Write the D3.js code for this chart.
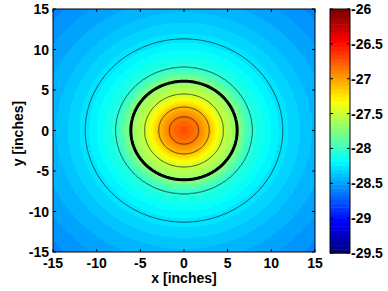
<!DOCTYPE html>
<html>
<head>
<meta charset="utf-8">
<script src="https://cdn.jsdelivr.net/npm/d3@7"></script>
<style>
  body { margin: 0; background: #fff; }
  text { font-family: "Liberation Sans", Arial, sans-serif; font-weight: bold; font-size: 14px; fill: #000; }
</style>
</head>
<body>
<svg id="chart" width="388" height="291"></svg>
<script>
// axis ticks
const xTicks = [-15, -10, -5, 0, 5, 10, 15];
const yTicks = [-15, -10, -5, 0, 5, 10, 15];
const cbTicks = [-26, -26.5, -27, -27.5, -28, -28.5, -29, -29.5];
const cRange = [-29.5, -26];

// radial profile (radius in inches -> value)
const radii  = [0, 1.7, 2.9, 4.5, 6.1, 7.8, 11.3, 15, 21.3];
const values = [-26.7, -26.88, -27.1, -27.5, -27.7, -28.05, -28.27, -28.42, -28.6];

// contour levels (thin) and the bold one
const thinLevels = [-26.88, -27.1, -27.5, -28.05, -28.27];
const boldLevels = [-27.7];

const plot = { left: 53, right: 315, top: 9, bottom: 252 };
const cbar = { left: 330, right: 350, top: 9, bottom: 253 };

const svg = d3.select('#chart');

const x = d3.scaleLinear().domain([-15, 15]).range([plot.left, plot.right]);
const y = d3.scaleLinear().domain([-15, 15]).range([plot.bottom, plot.top]);
const profile = d3.scaleLinear().domain(radii).range(values).clamp(true);

// MATLAB style jet, 64 colours
function jet(t) {
  const c = v => Math.max(0, Math.min(1, v));
  return [c(1.5 - Math.abs(4 * t - 3)), c(1.5 - Math.abs(4 * t - 2)), c(1.5 - Math.abs(4 * t - 1))];
}
const nColors = 64;
const cmap = d3.range(nColors).map(i => jet(i / (nColors - 1)));
const tScale = d3.scaleLinear().domain(cRange).range([0, 1]).clamp(true);
function colorOf(v) {
  const i = Math.min(nColors - 1, Math.floor(tScale(v) * nColors));
  return cmap[i];
}

// heat map drawn into a canvas and placed as an image
const pw = plot.right - plot.left, ph = plot.bottom - plot.top;
const canvas = document.createElement('canvas');
canvas.width = pw; canvas.height = ph;
const ctx = canvas.getContext('2d');
const img = ctx.createImageData(pw, ph);
for (let j = 0; j < ph; j++) {
  for (let i = 0; i < pw; i++) {
    const dx = x.invert(plot.left + i + 0.5), dy = y.invert(plot.top + j + 0.5);
    const col = colorOf(profile(Math.hypot(dx, dy)));
    const k = (j * pw + i) * 4;
    img.data[k] = Math.round(col[0] * 255);
    img.data[k + 1] = Math.round(col[1] * 255);
    img.data[k + 2] = Math.round(col[2] * 255);
    img.data[k + 3] = 255;
  }
}
ctx.putImageData(img, 0, 0);
svg.append('image')
  .attr('x', plot.left).attr('y', plot.top)
  .attr('width', pw).attr('height', ph)
  .attr('href', canvas.toDataURL());

// contours
const n = 241, step = 30 / (n - 1);
const grid = new Array(n * n);
for (let j = 0; j < n; j++) {
  for (let i = 0; i < n; i++) {
    const gx = -15 + i * step, gy = 15 - j * step;
    grid[j * n + i] = profile(Math.hypot(gx, gy));
  }
}
const toScreen = d3.geoTransform({
  point: function (px, py) {
    this.stream.point(x(-15 + (px - 0.5) * step), y(15 - (py - 0.5) * step));
  }
});
const path = d3.geoPath(toScreen);
svg.append('clipPath').attr('id', 'clip')
  .append('rect').attr('x', plot.left).attr('y', plot.top).attr('width', pw).attr('height', ph);
const g = svg.append('g').attr('clip-path', 'url(#clip)');

g.selectAll('path.thin')
  .data(d3.contours().size([n, n]).thresholds(thinLevels)(grid))
  .enter().append('path')
  .attr('class', 'thin')
  .attr('d', path)
  .attr('fill', 'none')
  .attr('stroke', '#111')
  .attr('stroke-width', 0.7);

g.selectAll('path.bold')
  .data(d3.contours().size([n, n]).thresholds(boldLevels)(grid))
  .enter().append('path')
  .attr('class', 'bold')
  .attr('d', path)
  .attr('fill', 'none')
  .attr('stroke', '#000')
  .attr('stroke-width', 3);

// frame and inward ticks
svg.append('rect')
  .attr('x', plot.left).attr('y', plot.top).attr('width', pw).attr('height', ph)
  .attr('fill', 'none').attr('stroke', '#000').attr('stroke-width', 1);

const tl = 3;
const ticks = svg.append('g').attr('stroke', '#000').attr('stroke-width', 1);
xTicks.forEach(t => {
  ticks.append('line').attr('x1', x(t)).attr('x2', x(t)).attr('y1', plot.bottom).attr('y2', plot.bottom - tl);
  ticks.append('line').attr('x1', x(t)).attr('x2', x(t)).attr('y1', plot.top).attr('y2', plot.top + tl);
});
yTicks.forEach(t => {
  ticks.append('line').attr('y1', y(t)).attr('y2', y(t)).attr('x1', plot.left).attr('x2', plot.left + tl);
  ticks.append('line').attr('y1', y(t)).attr('y2', y(t)).attr('x1', plot.right).attr('x2', plot.right - tl);
});

svg.append('g').selectAll('text')
  .data(xTicks).enter().append('text')
  .attr('x', d => x(d)).attr('y', 268)
  .attr('text-anchor', 'middle')
  .text(d => d);

svg.append('g').selectAll('text')
  .data(yTicks).enter().append('text')
  .attr('x', plot.left - 4).attr('y', d => y(d))
  .attr('dy', '0.36em')
  .attr('text-anchor', 'end')
  .text(d => d);

svg.append('text')
  .attr('x', x(0)).attr('y', 283)
  .attr('text-anchor', 'middle')
  .text('x [inches]');

svg.append('text')
  .attr('transform', 'translate(23,' + (y(0) + 3) + ') rotate(-90)')
  .attr('text-anchor', 'middle')
  .text('y [inches]');

// colour bar
const cy = d3.scaleLinear().domain(cRange).range([cbar.bottom, cbar.top]);
const bandH = (cbar.bottom - cbar.top) / nColors;
svg.append('g').selectAll('rect')
  .data(cmap).enter().append('rect')
  .attr('x', cbar.left)
  .attr('y', (d, i) => cbar.bottom - (i + 1) * bandH)
  .attr('width', cbar.right - cbar.left)
  .attr('height', bandH + 0.5)
  .attr('fill', d => d3.rgb(d[0] * 255, d[1] * 255, d[2] * 255));

svg.append('rect')
  .attr('x', cbar.left).attr('y', cbar.top)
  .attr('width', cbar.right - cbar.left).attr('height', cbar.bottom - cbar.top)
  .attr('fill', 'none').attr('stroke', '#000').attr('stroke-width', 1);

const cbt = svg.append('g').attr('stroke', '#000').attr('stroke-width', 1);
cbTicks.forEach(t => {
  cbt.append('line').attr('x1', cbar.left).attr('x2', cbar.left + tl).attr('y1', cy(t)).attr('y2', cy(t));
  cbt.append('line').attr('x1', cbar.right).attr('x2', cbar.right - tl).attr('y1', cy(t)).attr('y2', cy(t));
});

svg.append('g').selectAll('text')
  .data(cbTicks).enter().append('text')
  .attr('x', cbar.right + 1).attr('y', d => cy(d))
  .attr('dy', '0.36em')
  .text(d => d);
</script>
</body>
</html>
